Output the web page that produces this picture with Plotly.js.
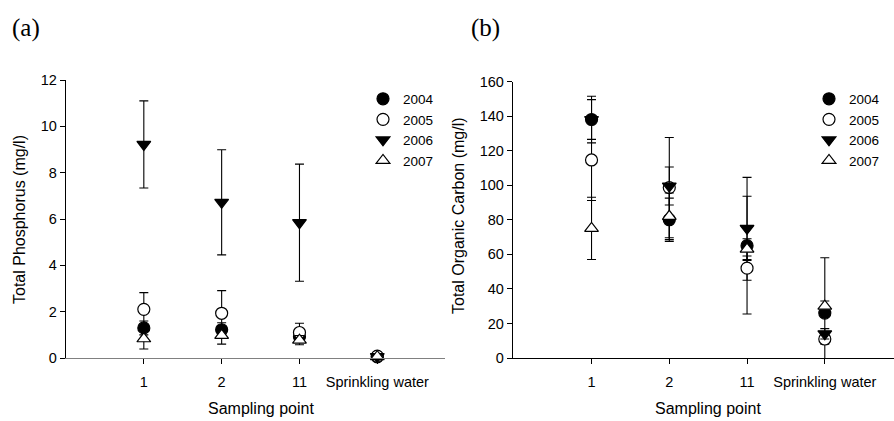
<!DOCTYPE html>
<html>
<head>
<meta charset="utf-8">
<script src="https://cdn.plot.ly/plotly-3.0.1.min.js"></script>
<style>html,body{margin:0;padding:0;background:#fff;}#chart{width:894px;height:421px;}</style>
</head>
<body>
<div id="chart"></div>
<script>
// Sampling points
const categories = ["1", "2", "11", "Sprinkling water"];
const years = ["2004", "2005", "2006", "2007"];

// (a) Total Phosphorus (mg/l): mean and error
const tp2004 = [1.30, 1.22, 0.92, 0.05];
const tp2004Err = [0.30, 0.30, 0.20, 0.03];
const tp2005 = [2.10, 1.93, 1.10, 0.08];
const tp2005Err = [0.72, 0.98, 0.40, 0.03];
const tp2006 = [9.22, 6.72, 5.84, 0.06];
const tp2006Err = [1.88, 2.27, 2.53, 0.03];
const tp2007 = [0.83, 0.98, 0.77, 0.06];
const tp2007Err = [0.44, 0.38, 0.20, 0.03];

// (b) Total Organic Carbon (mg/l): mean and error
const toc2004 = [138, 80, 65, 26];
const toc2004Err = [11.5, 12.5, 39.5, 32];
const toc2005 = [114.6, 98.6, 52, 11];
const toc2005Err = [23.5, 29, 7, 3];
const toc2006 = [138, 99.5, 75, 14];
const toc2006Err = [13.5, 11, 18.6, 3];
const toc2007 = [75, 82, 63, 30];
const toc2007Err = [18, 13.5, 6, 3];

const tpSeries = [[tp2004, tp2004Err], [tp2005, tp2005Err], [tp2006, tp2006Err], [tp2007, tp2007Err]];
const tocSeries = [[toc2004, toc2004Err], [toc2005, toc2005Err], [toc2006, toc2006Err], [toc2007, toc2007Err]];

const markerStyles = [
  {symbol: "circle", color: "#000000", size: 12},
  {symbol: "circle", color: "#ffffff", size: 12},
  {symbol: "triangle-down", color: "#000000", size: 12},
  {symbol: "triangle-up", color: "#ffffff", size: 12}
];

const FONT = "Liberation Sans, Arial, sans-serif";
const traces = [];
function addPanel(series, xa, ya, legendName) {
  series.forEach((s, i) => {
    const m = markerStyles[i];
    traces.push({
      type: "scatter", mode: "markers",
      x: categories, y: s[0],
      xaxis: xa, yaxis: ya,
      name: years[i],
      legend: legendName,
      cliponaxis: false,
      marker: {symbol: m.symbol, size: m.size, color: m.color, line: {color: "#000", width: 1.2}},
      error_y: {type: "data", array: s[1], visible: true, color: "#000", thickness: 1.1, width: 4.5}
    });
  });
}
addPanel(tpSeries, "x", "y", "legend");
addPanel(tocSeries, "x2", "y2", "legend2");

const H = 421, W = 894;
const py = v => (H - v) / H;
const px = v => v / W;

const axisCommon = {
  showgrid: false, zeroline: false, showline: true, linewidth: 1.2,
  ticks: "outside", ticklen: 5, tickwidth: 1, tickcolor: "#000",
  tickfont: {family: FONT, size: 14.5, color: "#000"}
};

const legendFont = {family: FONT, size: 13.5, color: "#000"};

const layout = {
  width: W, height: H,
  margin: {l: 0, r: 0, t: 0, b: 0},
  paper_bgcolor: "#fff", plot_bgcolor: "#fff",
  font: {family: FONT, color: "#000"},
  showlegend: true,
  xaxis: Object.assign({}, axisCommon, {
    domain: [px(66), px(445)], anchor: "y", type: "category",
    range: [-1, 3.87], linecolor: "#808080", ticklabelstandoff: 5
  }),
  yaxis: Object.assign({}, axisCommon, {
    domain: [py(358), py(80)], anchor: "x",
    range: [0, 12], dtick: 2, linecolor: "#000"
  }),
  xaxis2: Object.assign({}, axisCommon, {
    domain: [px(513), 1], anchor: "y2", type: "category",
    range: [-1.01, 3.89], linecolor: "#000", ticklabelstandoff: 5
  }),
  yaxis2: Object.assign({}, axisCommon, {
    domain: [py(358), py(81.5)], anchor: "x2",
    range: [0, 160], dtick: 20, linecolor: "#000"
  }),
  legend: {
    x: px(363), y: py(83.5), xanchor: "left", yanchor: "top",
    bgcolor: "rgba(0,0,0,0)", borderwidth: 0,
    font: legendFont, itemwidth: 30, tracegroupgap: 0
  },
  legend2: {
    x: px(809), y: py(83.5), xanchor: "left", yanchor: "top",
    bgcolor: "rgba(0,0,0,0)", borderwidth: 0,
    font: legendFont, itemwidth: 30, tracegroupgap: 0
  },
  annotations: [
    {text: "(a)", xref: "paper", yref: "paper", x: px(26), y: py(28), xanchor: "center", yanchor: "middle",
     showarrow: false, font: {family: "Liberation Serif, DejaVu Serif, serif", size: 25, color: "#000"}},
    {text: "(b)", xref: "paper", yref: "paper", x: px(485), y: py(28), xanchor: "center", yanchor: "middle",
     showarrow: false, font: {family: "Liberation Serif, DejaVu Serif, serif", size: 25, color: "#000"}},
    {text: "Total Phosphorus (mg/l)", xref: "paper", yref: "paper", x: px(20), y: py(220), textangle: -90,
     xanchor: "center", yanchor: "middle", showarrow: false, font: {family: FONT, size: 16, color: "#000"}},
    {text: "Total Organic Carbon (mg/l)", xref: "paper", yref: "paper", x: px(459), y: py(216), textangle: -90,
     xanchor: "center", yanchor: "middle", showarrow: false, font: {family: FONT, size: 16, color: "#000"}},
    {text: "Sampling point", xref: "paper", yref: "paper", x: px(260.5), y: py(408),
     xanchor: "center", yanchor: "middle", showarrow: false, font: {family: FONT, size: 16, color: "#000"}},
    {text: "Sampling point", xref: "paper", yref: "paper", x: px(708), y: py(408),
     xanchor: "center", yanchor: "middle", showarrow: false, font: {family: FONT, size: 16, color: "#000"}}
  ]
};

Plotly.newPlot("chart", traces, layout, {displayModeBar: false, staticPlot: true});
</script>
</body>
</html>
